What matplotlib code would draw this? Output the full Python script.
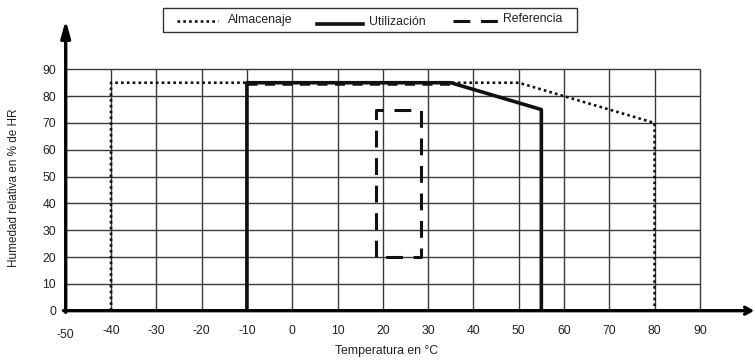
import matplotlib
matplotlib.use("Agg")
import matplotlib.pyplot as plt
from matplotlib.lines import Line2D
from matplotlib.patches import Rectangle
import matplotlib.transforms as mtrans

plt.rcParams['font.family'] = ['Liberation Sans', 'DejaVu Sans']

# Data
alm_x = [-40, -40, 50, 80, 80]
alm_y = [0, 85, 85, 70, 0]
uti_x = [-10, -10, 35, 55, 55]
uti_y = [0, 85, 85, 75, 0]
ref_x = [18.5, 18.5, 28.5, 28.5, 18.5]
ref_y = [20, 75, 75, 20, 20]
ref_top_x = [-10, 35]
ref_top_y = [84.7, 84.7]
x_ticks = [-40, -30, -20, -10, 0, 10, 20, 30, 40, 50, 60, 70, 80, 90]
y_ticks = [0, 10, 20, 30, 40, 50, 60, 70, 80, 90]
legend_labels = ["Almacenaje", "Utilización", "Referencia"]

FS = 8.8
TC = '#222222'
W, H = 755, 363
fig = plt.figure(figsize=(W / 100, H / 100), dpi=100)
x0_px, x_scale = 65.7, 4.53
y0_px, y_scale = 310.7, 2.682
xmin, xmax = -50, 102
ymin, ymax = 0, 108
left = x0_px / W
width = (xmax - xmin) * x_scale / W
bottom = (H - y0_px) / H
height = (ymax - ymin) * y_scale / H
ax = fig.add_axes([left, bottom, width, height])
ax.set_xlim(xmin, xmax)
ax.set_ylim(ymin, ymax)
for s in ax.spines.values():
    s.set_visible(False)
ax.patch.set_alpha(0)

grid_c = '#3a3a3a'
ax.vlines(x_ticks, 0, 90, colors=grid_c, lw=1.0, zorder=1)
ax.hlines(y_ticks[1:], -50, 90, colors=grid_c, lw=1.0, zorder=1)

# axes arrows
ax.annotate('', xy=(-50, 108.3), xytext=(-50, -0.6), xycoords='data',
            arrowprops=dict(arrowstyle='-|>,head_length=1.0,head_width=0.28', lw=2.4,
                            color='black', shrinkA=0, shrinkB=0),
            zorder=5, annotation_clip=False)
ax.annotate('', xy=(102, 0), xytext=(-50.5, 0),
            arrowprops=dict(arrowstyle='->,head_length=0.45,head_width=0.25', lw=2.4,
                            color='black', shrinkA=0, shrinkB=0),
            zorder=5, annotation_clip=False)

# series
ax.plot(alm_x, alm_y, color='#111111', lw=1.9, linestyle=(0, (1, 1.2)), zorder=3,
        dash_capstyle='butt')
ax.plot(ref_top_x, ref_top_y, color='#111111', lw=1.8, linestyle=(0, (4, 3)), zorder=3)
ax.plot(uti_x, uti_y, color='#111111', lw=2.6, zorder=4)
ax.plot(ref_x, ref_y, color='#111111', lw=2.2, linestyle=(0, (5.5, 3.5)), zorder=3)

# ticks
ax.set_xticks(x_ticks)
ax.set_xticklabels([str(v) for v in x_ticks])
ax.set_yticks(y_ticks)
ax.set_yticklabels([str(v) for v in y_ticks])
ax.tick_params(axis='both', length=0, labelsize=FS, colors=TC)
ax.tick_params(axis='x', pad=10)
ax.tick_params(axis='y', pad=7)
t = ax.text(-50, 0, "-50", fontsize=FS, color=TC, ha='center', va='center')
t.set_transform(ax.transData + mtrans.ScaledTranslation(0, -24.5 / 100, fig.dpi_scale_trans))

fig.text(387 / W, 1 - 351 / H, "Temperatura en °C", fontsize=FS, ha='center', va='center',
         color=TC)
fig.text(14 / W, 1 - 188 / H, "Humedad relativa en % de HR", fontsize=8.5, rotation=90,
         ha='center', va='center', color=TC)

def fx(px):
    return px / W

def fy(py):
    return 1 - py / H

fig.add_artist(Rectangle((fx(163), fy(32)), fx(577) - fx(163), fy(8) - fy(32),
                         transform=fig.transFigure, fill=False, ec='#333333', lw=1.0))
fig.add_artist(Line2D([fx(177), fx(218)], [fy(20.7), fy(20.7)], transform=fig.transFigure,
                      color='#111111', lw=1.9, linestyle=(0, (1, 1.2))))
fig.add_artist(Line2D([fx(317), fx(363)], [fy(24), fy(24)], transform=fig.transFigure,
                      color='#111111', lw=2.6))
fig.add_artist(Line2D([fx(453), fx(498)], [fy(20.7), fy(20.7)], transform=fig.transFigure,
                      color='#111111', lw=2.2, linestyle=(0, (5.5, 3.5))))
fig.text(fx(228), fy(20), legend_labels[0], fontsize=FS, va='center', ha='left', color=TC)
fig.text(fx(369), fy(22), legend_labels[1], fontsize=FS, va='center', ha='left', color=TC)
fig.text(fx(503), fy(19), legend_labels[2], fontsize=FS, va='center', ha='left', color=TC)

fig.savefig("out.png", dpi=100)
